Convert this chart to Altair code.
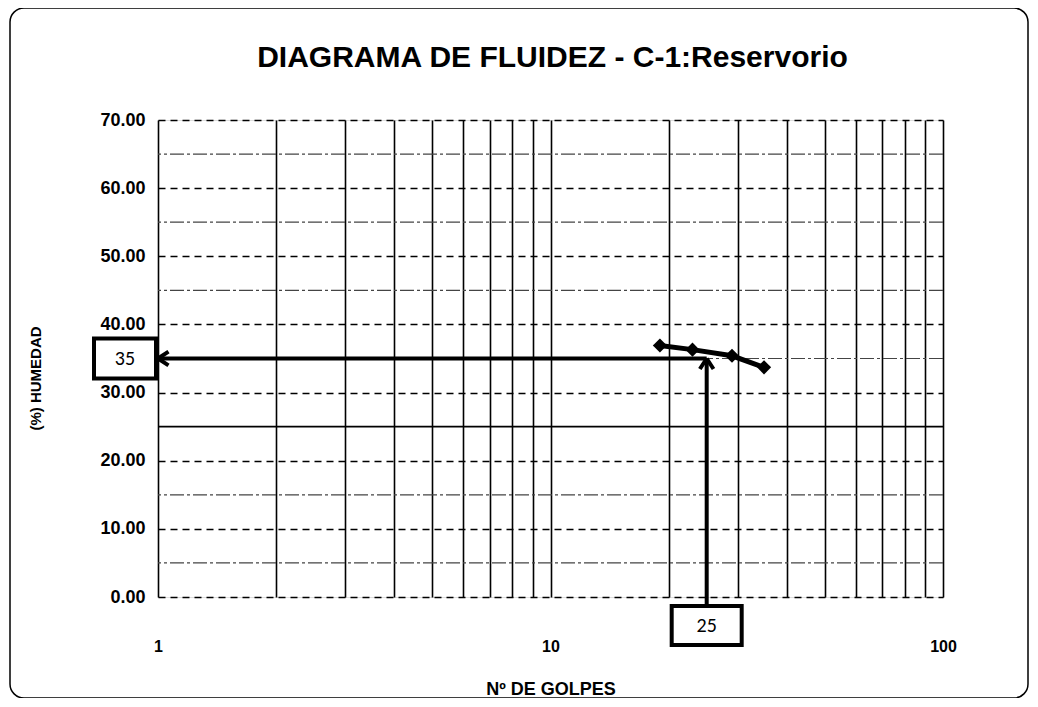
import altair as alt
import pandas as pd

golpes = [19, 23, 29, 35]
humedad = [36.9, 36.3, 35.4, 33.7]
x_grid = [1, 2, 3, 4, 5, 6, 7, 8, 9, 10, 20, 30, 40, 50, 60, 70, 80, 90, 100]
x_labels = [1, 10, 100]
y_ticks = [0, 10, 20, 30, 40, 50, 60, 70]
y_minor = [5, 15, 35, 45, 55, 65]
y_solid = [25]
lim_golpes = 25
lim_humedad = 35
title_text = "DIAGRAMA DE FLUIDEZ - C-1:Reservorio"

FONT = "Liberation Sans"
W, H = 785, 477

df = pd.DataFrame({"golpes": golpes, "humedad": humedad})
xs = alt.Scale(type="log", domain=[1, 100], nice=False)
ys = alt.Scale(domain=[0, 70], nice=False)

xaxis = alt.Axis(values=x_grid, grid=True, gridColor="black", gridWidth=1.6,
                 ticks=False, domain=False,
                 labelExpr="indexof([1,10,100], datum.value) >= 0 ? datum.label : ''",
                 labelFont=FONT, labelFontWeight="bold", labelFontSize=16, labelColor="black",
                 labelPadding=41, labelFlush=False,
                 title="Nº DE GOLPES", titleFont=FONT, titleFontSize=18, titleFontWeight="bold",
                 titleColor="black", titleY=92, titleBaseline="middle")
yaxis = alt.Axis(values=y_ticks, format=".2f", grid=True, gridColor="black", gridWidth=1.6,
                 gridDash=[7, 5], ticks=False, domain=False,
                 labelFont=FONT, labelFontWeight="bold", labelFontSize=18, labelColor="black",
                 labelPadding=13,
                 title="(%) HUMEDAD", titleFont=FONT, titleFontSize=15, titleFontWeight="bold",
                 titleColor="black", titleX=-123, titleY=258, titleBaseline="middle",
                 titleAngle=-90, titleAlign="center")

base = alt.Chart(df)
one = alt.Chart(pd.DataFrame({"a": [0]}))

border = one.mark_rect(
    filled=False, stroke="black", strokeWidth=1.5, cornerRadius=14
).encode(x=alt.value(-148), x2=alt.value(870), y=alt.value(-112), y2=alt.value(578))

title = one.mark_text(text=title_text, font=FONT, fontSize=30, fontWeight="bold",
                      color="black", align="center", baseline="middle").encode(
    x=alt.value(W / 2 + 2), y=alt.value(-62)
)

minor = alt.Chart(pd.DataFrame({"v": y_minor})).mark_rule(
    color="#444", strokeWidth=1.2, strokeDash=[14, 3, 3, 3]
).encode(y=alt.Y("v:Q", scale=ys))

solid = alt.Chart(pd.DataFrame({"v": y_solid})).mark_rule(
    color="black", strokeWidth=1.6
).encode(y=alt.Y("v:Q", scale=ys))

line = base.mark_line(color="black", strokeWidth=5).encode(
    x=alt.X("golpes:Q", scale=xs, axis=xaxis),
    y=alt.Y("humedad:Q", scale=ys, axis=yaxis),
)
pts = base.mark_point(shape="diamond", filled=True, color="black", size=200, opacity=1).encode(
    x=alt.X("golpes:Q", scale=xs), y=alt.Y("humedad:Q", scale=ys)
)

h_arrow = one.mark_rule(color="black", strokeWidth=4).encode(
    x=alt.datum(1), x2=alt.datum(lim_golpes), y=alt.datum(lim_humedad)
)
v_arrow = one.mark_rule(color="black", strokeWidth=4).encode(
    x=alt.datum(lim_golpes), y=alt.datum(lim_humedad), y2=alt.value(486)
)
h_head = one.mark_point(shape="M0,0L2,-1.3M0,0L2,1.3", filled=False, color="black",
                        strokeWidth=4, size=110, opacity=1).encode(
    x=alt.datum(1), y=alt.datum(lim_humedad)
)
v_head = one.mark_point(shape="M0,0L-1.3,2M0,0L1.3,2", filled=False, color="black",
                        strokeWidth=4, size=110, opacity=1).encode(
    x=alt.datum(lim_golpes), y=alt.datum(lim_humedad)
)

box35 = one.mark_rect(filled=False, stroke="black", strokeWidth=4, yOffset=-20, y2Offset=20).encode(
    x=alt.value(-64), x2=alt.value(-2), y=alt.datum(lim_humedad), y2=alt.datum(lim_humedad)
)
txt35 = one.mark_text(text=str(lim_humedad), font="Carlito", fontSize=20, color="black",
                      align="center", baseline="middle").encode(
    x=alt.value(-33), y=alt.datum(lim_humedad)
)
box25 = one.mark_rect(filled=False, stroke="black", strokeWidth=4, xOffset=-35, x2Offset=35).encode(
    x=alt.datum(lim_golpes), x2=alt.datum(lim_golpes), y=alt.value(486), y2=alt.value(525)
)
txt25 = one.mark_text(text=str(lim_golpes), font="Carlito", fontSize=20, color="black",
                      align="center", baseline="middle").encode(
    x=alt.datum(lim_golpes), y=alt.value(506)
)

chart = alt.layer(
    border, title, minor, solid, line, pts, h_arrow, v_arrow, h_head, v_head,
    box35, txt35, box25, txt25
).properties(
    width=W, height=H,
    autosize=alt.AutoSizeParams(type="none"),
    padding={"left": 150, "top": 112, "right": 86, "bottom": 101},
).configure_view(stroke="black", strokeWidth=1.5).configure(background="white")

chart.save("out.html", embed_options={"renderer": "svg", "actions": False})
